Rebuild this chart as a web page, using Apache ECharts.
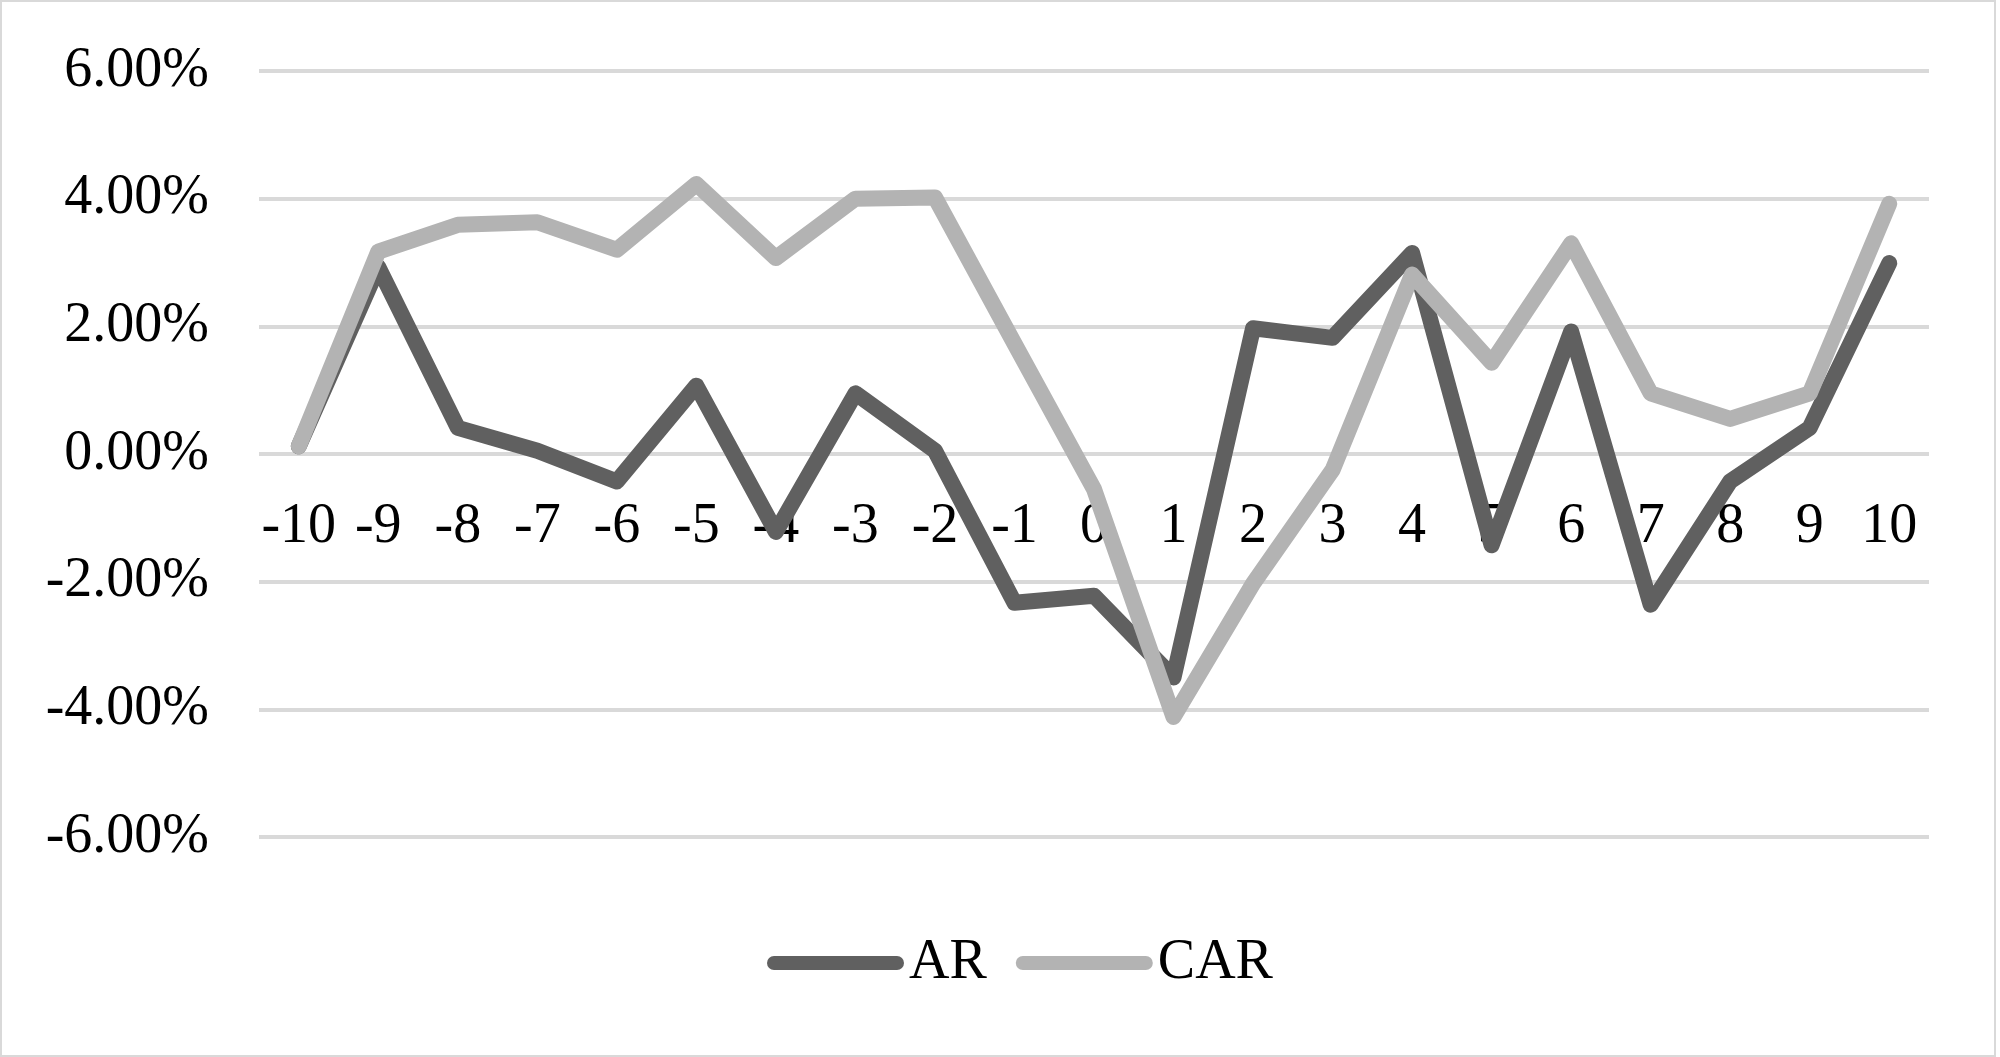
<!DOCTYPE html>
<html>
<head>
<meta charset="utf-8">
<script src="https://cdn.jsdelivr.net/npm/echarts@6/dist/echarts.min.js"></script>
<style>
html, body { margin: 0; padding: 0; background: #fff; }
#main {
    width: 1996px;
    height: 1057px;
    box-sizing: border-box;
    border: 2px solid #d9d9d9;
    background: #fff;
}
</style>
</head>
<body>
<div id="main"></div>
<script type="text/javascript">
// event window days
var days = ['-10', '-9', '-8', '-7', '-6', '-5', '-4', '-3', '-2', '-1', '0',
            '1', '2', '3', '4', '5', '6', '7', '8', '9', '10'];
// values in percent
var arValues = [0.12, 2.93, 0.41, 0.05, -0.43, 1.07, -1.22, 0.95, 0.05, -2.33, -2.22,
                -3.50, 1.97, 1.82, 3.15, -1.43, 1.92, -2.36, -0.43, 0.41, 2.99];
var carValues = [0.12, 3.17, 3.59, 3.63, 3.20, 4.23, 3.07, 4.00, 4.02, 1.73, -0.55,
                 -4.12, -2.03, -0.25, 2.81, 1.43, 3.30, 0.95, 0.55, 0.95, 3.92];
var seriesNames = ['AR', 'CAR'];

var font = '"Liberation Serif", "Times New Roman", serif';
var legendIcon = 'path://M7,0 H130 A7,7 0 0 1 130,14 H7 A7,7 0 0 1 7,0 Z';

var chart = echarts.init(document.getElementById('main'));
chart.setOption({
    animation: false,
    textStyle: { fontFamily: font },
    grid: {
        left: 257,
        right: 65,
        top: 69,
        bottom: 218,
        containLabel: false
    },
    legend: {
        data: seriesNames,
        left: 760,
        top: 928,
        itemWidth: 137,
        itemHeight: 15,
        itemGap: 29,
        icon: legendIcon,
        textStyle: {
            fontFamily: font,
            fontSize: 56,
            color: '#000'
        }
    },
    xAxis: {
        type: 'category',
        data: days,
        boundaryGap: true,
        // labels sit just under the 0% line, so pull the axis up into the grid
        offset: -383,
        axisLine: { show: false, onZero: false },
        axisTick: { show: false },
        axisLabel: {
            fontFamily: font,
            fontSize: 56,
            color: '#000',
            margin: 45,
            interval: 0
        },
        splitLine: { show: false }
    },
    yAxis: {
        type: 'value',
        min: -6,
        max: 6,
        interval: 2,
        axisLine: { show: false },
        axisTick: { show: false },
        axisLabel: {
            fontFamily: font,
            fontSize: 56,
            color: '#000',
            margin: 50,
            formatter: function (v) { return v.toFixed(2) + '%'; }
        },
        splitLine: {
            show: true,
            lineStyle: { color: '#d9d9d9', width: 4 }
        }
    },
    series: [
        {
            name: 'AR',
            type: 'line',
            data: arValues,
            symbol: 'none',
            color: '#606060',
            lineStyle: { color: '#606060', width: 16, cap: 'round', join: 'round' }
        },
        {
            name: 'CAR',
            type: 'line',
            data: carValues,
            symbol: 'none',
            color: '#b3b3b3',
            lineStyle: { color: '#b3b3b3', width: 16, cap: 'round', join: 'round' }
        }
    ]
});
</script>
</body>
</html>
